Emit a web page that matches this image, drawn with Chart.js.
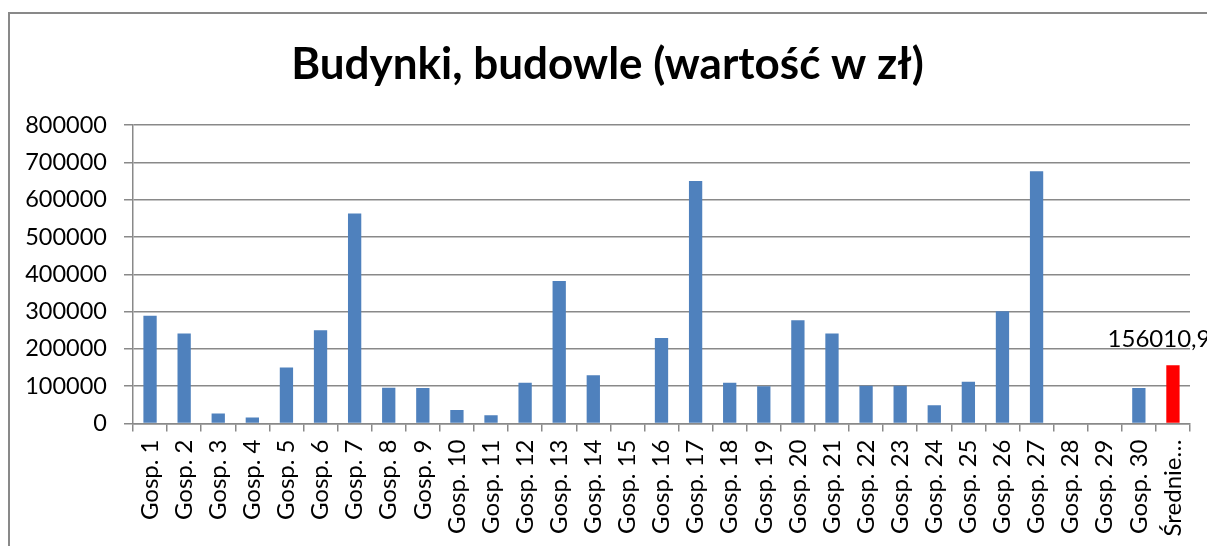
<!DOCTYPE html>
<html>
<head>
<meta charset="utf-8">
<script src="https://cdn.jsdelivr.net/npm/chart.js@4.4.1/dist/chart.umd.min.js"></script>
<style>
  html, body { margin: 0; padding: 0; background: #fff; overflow: hidden; width: 1207px; height: 546px; }
  #box { position: absolute; left: 8px; top: 12px; border: 2px solid #898989; background: #fff; }
  canvas { display: block; }
</style>
</head>
<body>
<div id="box"><canvas id="chart" width="1280" height="560"></canvas></div>
<script>
const categories = [
    'Gosp. 1', 'Gosp. 2', 'Gosp. 3', 'Gosp. 4', 'Gosp. 5', 'Gosp. 6', 'Gosp. 7', 'Gosp. 8',
    'Gosp. 9', 'Gosp. 10', 'Gosp. 11', 'Gosp. 12', 'Gosp. 13', 'Gosp. 14', 'Gosp. 15', 'Gosp. 16',
    'Gosp. 17', 'Gosp. 18', 'Gosp. 19', 'Gosp. 20', 'Gosp. 21', 'Gosp. 22', 'Gosp. 23', 'Gosp. 24',
    'Gosp. 25', 'Gosp. 26', 'Gosp. 27', 'Gosp. 28', 'Gosp. 29', 'Gosp. 30', 'Średnie…'
];
const values = [
    289000, 241000, 27000, 16000, 150000, 250000, 563000, 96000,
    95000, 36000, 22000, 109000, 382000, 129000, 0, 229000,
    650000, 109000, 100000, 277000, 241000, 101000, 101000, 49000,
    112000, 301000, 676000, 0, 0, 95000, 156010.967
];
const yTicks = [0, 100000, 200000, 300000, 400000, 500000, 600000, 700000, 800000];
const labelledIndex = 30;

const barColors = values.map((v, i) => i === labelledIndex ? '#FF0000' : '#4F81BD');
const fontFamily = 'Lato, "Open Sans", sans-serif';

// value label above the "Średnie" bar
const valueLabel = {
    id: 'valueLabel',
    afterDatasetsDraw(chart) {
        const bar = chart.getDatasetMeta(0).data[labelledIndex];
        const ctx = chart.ctx;
        ctx.save();
        ctx.font = '24px ' + fontFamily;
        ctx.fillStyle = '#000';
        ctx.textAlign = 'center';
        ctx.textBaseline = 'alphabetic';
        ctx.fillText(String(values[labelledIndex]).replace('.', ','), bar.x, bar.y - 18);
        ctx.restore();
    }
};

new Chart(document.getElementById('chart'), {
    type: 'bar',
    data: {
        labels: categories,
        datasets: [{
            data: values,
            backgroundColor: barColors,
            borderWidth: 0,
            categoryPercentage: 1,
            barPercentage: 0.39
        }]
    },
    options: {
        responsive: false,
        animation: false,
        layout: { padding: { left: 15, top: 0, right: 100, bottom: 0 } },
        plugins: {
            legend: { display: false },
            tooltip: { enabled: false },
            title: {
                display: true,
                text: 'Budynki, budowle (wartość w zł)',
                color: '#000',
                font: { family: fontFamily, size: 44, weight: 'bold', lineHeight: 1.2 },
                padding: { top: 24.6, bottom: 33.6 }
            }
        },
        scales: {
            x: {
                offset: true,
                grid: { display: true, drawOnChartArea: false, drawTicks: true, tickLength: 8, color: '#898989', lineWidth: 1.5 },
                border: { display: true, color: '#898989', width: 1.5 },
                ticks: {
                    color: '#000', autoSkip: false, minRotation: 90, maxRotation: 90, padding: 8,
                    font: { family: fontFamily, size: 24 }
                },
                afterFit: s => { s.height = 150.5; }
            },
            y: {
                min: 0, max: 800000,
                afterBuildTicks: s => { s.ticks = yTicks.map(v => ({ value: v })); },
                grid: { color: '#898989', lineWidth: 1.5, tickLength: 9 },
                border: { display: true, color: '#898989', width: 1.5 },
                ticks: {
                    color: '#000', padding: 17,
                    font: { family: fontFamily, size: 23.5 },
                    callback: v => String(v)
                },
                afterFit: s => { s.width = 108; }
            }
        }
    },
    plugins: [valueLabel]
});
</script>
</body>
</html>
